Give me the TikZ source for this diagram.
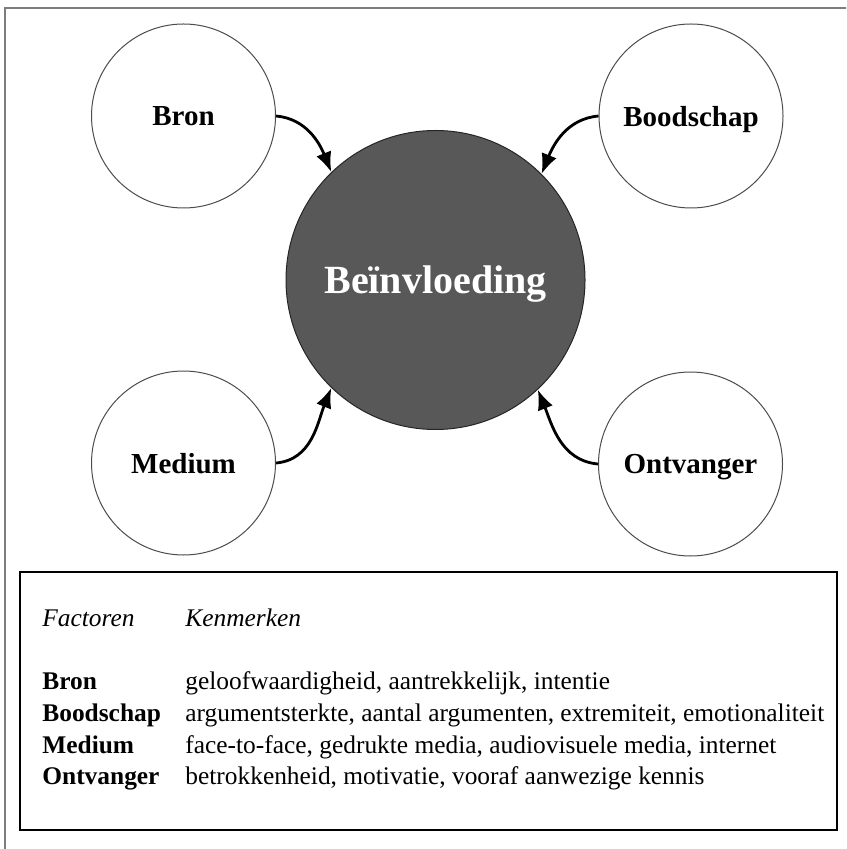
\documentclass[tikz,border=0pt]{standalone}
\usepackage{fontspec}
\setmainfont{Liberation Serif}
\usetikzlibrary{positioning, arrows.meta}

\begin{document}
\begin{tikzpicture}[x=0.5pt,y=-0.5pt,every node/.style={font=\fontsize{12.7}{16}\selectfont}]

    % Colors
    \definecolor{kader}{RGB}{125,125,125}
    \definecolor{kern}{RGB}{88,88,88}

    % Styles
    \tikzset{
      factor/.style={circle,draw=black!70,line width=0.5pt,fill=white,minimum size=92pt,
        inner sep=0pt,text depth=0pt,font=\fontsize{14.5}{17}\selectfont\bfseries},
      invloed/.style={circle,draw=black!85,line width=0.5pt,fill=kern,minimum size=149.5pt,
        inner sep=0pt,text=white,text depth=0pt,font=\fontsize{20}{24}\selectfont\bfseries},
      pijl/.style={line width=1.4pt,-{Latex[length=10pt,width=8pt]}},
      cel/.style={anchor=base west,inner sep=0pt}
    }

    \useasboundingbox (0,0) rectangle (846,849);
    \clip (0,0) rectangle (846,849);

    % ======================
    % Outer frame
    % ======================
    \draw[kader,line width=1pt] (5,8) rectangle (870,880);

    % ======================
    % Circles
    % ======================
    % Center
    \node[invloed] (inv) at (435.5,280) {Beïnvloeding};

    % Factors (corners)
    \node[factor] (bron) at (183.5,116) {Bron};
    \node[factor] (boodschap) at (691,116) {Boodschap};
    \node[factor] (medium) at (183.5,463) {Medium};
    \node[factor] (ontvanger) at (690.5,464) {Ontvanger};

    % ======================
    % Arrows
    % ======================
    \draw[pijl] (bron.east) to[out=-5,in=112] (inv.134);
    \draw[pijl] (boodschap.west) to[out=185,in=68] (inv.45);
    \draw[pijl] (medium.east) to[out=5,in=-112] (inv.226);
    \draw[pijl] (ontvanger.west) to[out=175,in=-68] (inv.-47);

    % ======================
    % Table
    % ======================
    \draw[line width=0.8pt] (20,572) rectangle (837,830);

    % Header
    \node[cel] (f0) at (42,626) {\itshape Factoren};
    \node[cel] (k0) at (185,626) {\itshape Kenmerken};

    % Rows
    \node[cel] (f1) at (42,689) {\bfseries Bron};
    \node[cel] (k1) at (185,689) {geloofwaardigheid, aantrekkelijk, intentie};

    \node[cel] (f2) at (42,721) {\bfseries Boodschap};
    \node[cel] (k2) at (185,721) {argumentsterkte, aantal argumenten, extremiteit, emotionaliteit};

    \node[cel] (f3) at (42,753) {\bfseries Medium};
    \node[cel] (k3) at (185,753) {face-to-face, gedrukte media, audiovisuele media, internet};

    \node[cel] (f4) at (42,784) {\bfseries Ontvanger};
    \node[cel] (k4) at (185,784) {betrokkenheid, motivatie, vooraf aanwezige kennis};

\end{tikzpicture}
\end{document}
